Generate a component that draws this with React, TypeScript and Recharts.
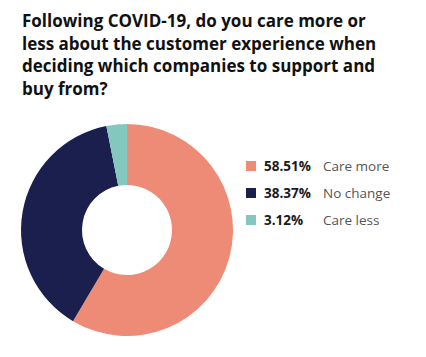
import { PieChart, Pie, Cell, Legend } from 'recharts'

// categories and shares (%)
const categories = ['Care more', 'No change', 'Care less']
const shares = [58.51, 38.37, 3.12]
const colors = ['#EE8B77', '#1B1F4E', '#82C8BF']

const titleLines = [
  'Following COVID-19, do you care more or',
  'less about the customer experience when',
  'deciding which companies to support and',
  'buy from?',
]

const data = categories.map((name, i) => ({ name, value: shares[i], color: colors[i] }))

// custom legend: square, bold percent, grey label
const renderLegend = () => (
  <div>
    {data.map((d) => (
      <div
        key={d.name}
        style={{ display: 'flex', alignItems: 'center', height: 27, fontSize: 13.5 }}
      >
        <span style={{ width: 10, height: 10, background: d.color, display: 'inline-block', marginRight: 8 }} />
        <span style={{ width: 59, fontWeight: 700, color: '#1a1a1a' }}>{d.value.toFixed(2)}%</span>
        <span style={{ color: '#555' }}>{d.name}</span>
      </div>
    ))}
  </div>
)

export default function App() {
  return (
    <div
      style={{
        position: 'fixed',
        left: 0,
        top: 0,
        width: 426,
        height: 357,
        background: '#fff',
        fontFamily: '"Open Sans", Lato, sans-serif',
      }}
    >
      <div
        style={{
          position: 'absolute',
          left: 22,
          top: 10,
          width: 400,
          fontSize: 17,
          lineHeight: '22.5px',
          fontWeight: 700,
          color: '#111',
          whiteSpace: 'nowrap',
        }}
      >
        {titleLines.map((l) => (
          <div key={l}>{l}</div>
        ))}
      </div>
      <PieChart width={426} height={357}>
        <Pie
          data={data}
          dataKey="value"
          cx={122}
          cy={225}
          innerRadius={45}
          outerRadius={106}
          startAngle={90}
          endAngle={-270}
          stroke="none"
          isAnimationActive={false}
        >
          {data.map((d, i) => (
            <Cell key={`cell-${i}`} fill={d.color} />
          ))}
        </Pie>
        <Legend
          layout="vertical"
          content={renderLegend}
          wrapperStyle={{ left: 246, top: 152, width: 170 }}
        />
      </PieChart>
    </div>
  )
}
